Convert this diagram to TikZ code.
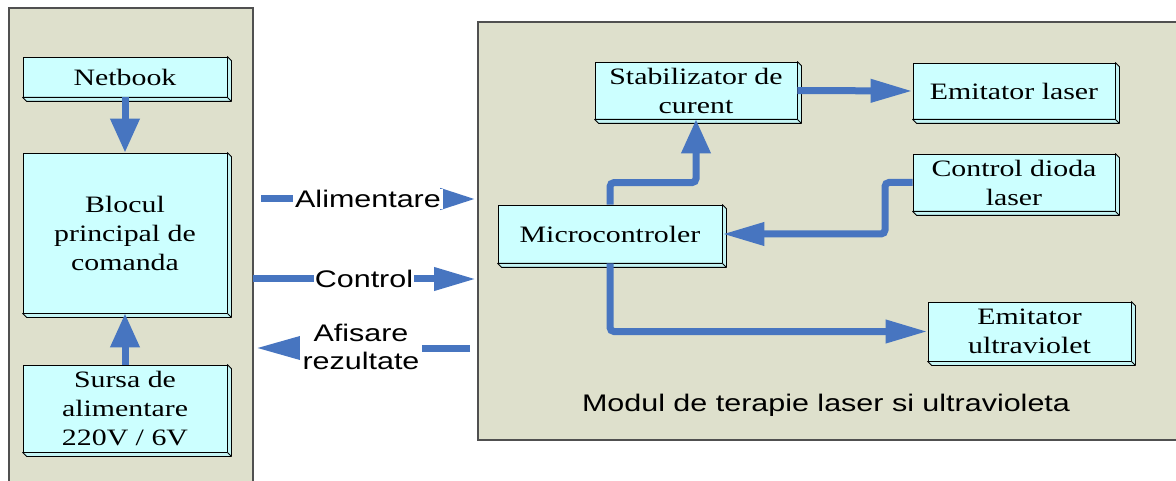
\documentclass[tikz,border=0pt]{standalone}
\usepackage{fontspec}
\setmainfont{Liberation Serif}[FakeStretch=1.27]
\newfontfamily\labfont{Liberation Sans}[FakeStretch=1.27]
\usetikzlibrary{arrows.meta,calc}
\definecolor{panelbg}{RGB}{222,224,204}
\definecolor{panelline}{RGB}{80,80,80}
\definecolor{boxbg}{RGB}{204,255,255}
\definecolor{bevelbg}{RGB}{196,244,244}
\definecolor{flowblue}{RGB}{71,117,192}
\begin{document}
\begin{tikzpicture}[x=1pt,y=-1pt,
  panel/.style={draw=panelline, line width=1.2pt, fill=panelbg},
  box/.style={draw=black, line width=0.8pt, fill=boxbg, inner sep=0pt, align=center,
    font=\fontsize{23.5}{29}\selectfont},
  bevel/.style={draw=black, line width=0.8pt, fill=bevelbg, line join=round},
  flow/.style={draw=flowblue, line width=7pt, rounded corners=4pt},
  htip/.style={-{Triangle[length=42pt,width=22pt]}},
  vtip/.style={-{Triangle[length=34pt,width=28pt]}},
  lab/.style={font=\labfont\fontsize{24}{28}\selectfont, fill=white, inner sep=1pt, align=center}]
\useasboundingbox (0,0) rectangle (1176,481);
\clip (0,0) rectangle (1176,481);
\fill[white] (0,0) rectangle (1176,481);
% panels
\draw[panel] (9,8) rectangle (253,495);
\draw[panel] (478,22) rectangle (1190,440);
% boxes
\node[box, minimum width=204pt, minimum height=40pt] (netbook) at (125,77) {Netbook};
\node[box, minimum width=204pt, minimum height=160pt] (blocul) at (125,233) {Blocul\\principal de\\comanda};
\node[box, minimum width=204pt, minimum height=87pt] (sursa) at (125,408.5) {Sursa de\\alimentare\\220V / 6V};
\node[box, minimum width=202pt, minimum height=57pt] (stab) at (696,90.5) {Stabilizator de\\curent};
\node[box, minimum width=202pt, minimum height=56pt] (emlaser) at (1014,91) {Emitator laser};
\node[box, minimum width=202pt, minimum height=57pt] (ctrl) at (1014,182.5) {Control dioda\\laser};
\node[box, minimum width=224pt, minimum height=58pt] (micro) at (610,234) {Microcontroler};
\node[box, minimum width=203pt, minimum height=59pt] (emuv) at (1029.5,331.5) {Emitator\\ultraviolet};
\foreach \n in {netbook,blocul,sursa,stab,emlaser,ctrl,micro,emuv}{
  \draw[bevel] (\n.north east) -- ($(\n.north east)+(4,4)$) -- ($(\n.south east)+(4,4)$)
    -- ($(\n.south west)+(4,4)$) -- (\n.south west) -- (\n.south east) -- cycle;
  \draw[bevel] (\n.south east) -- ($(\n.south east)+(4,4)$);
}
\node[font=\labfont\fontsize{24}{28}\selectfont] (modul) at (826,405) {Modul de terapie laser si ultravioleta};
% left panel arrows
\draw[flow, vtip] (netbook.south) -- (blocul.north);
\draw[flow, vtip] (sursa.north) -- (blocul.south);
% between panels
\coordinate (aS) at (261,199); \coordinate (aE) at (476,199);
\coordinate (cS) at (253,279); \coordinate (cE) at (476,279);
\coordinate (fS) at (470,348); \coordinate (fE) at (256,348);
\draw[flow, -{Triangle[length=36pt,width=20pt]}] (aS) -- (aE);
\draw[flow, htip] (cS) -- (cE);
\draw[flow, -{Triangle[length=46pt,width=23pt]}] (fS) -- (fE);
\node[lab, inner xsep=2pt] (alim) at (368,199) {Alimentare};
\node[lab] (ctrltxt) at (364,279) {Control};
\node[lab, inner xsep=3pt] (afis) at (361,347) {Afisare\\rezultate};
% right panel arrows
\draw[flow, htip] (stab.east) -- (emlaser.west);
\draw[flow, vtip] (micro.north) -- ++(0,-22) -| (stab.south);
\draw[flow, htip] (ctrl.west) -- (885,182.5) |- (micro.east);
\draw[flow, htip] (micro.south) |- (emuv.west);
\end{tikzpicture}
\end{document}
